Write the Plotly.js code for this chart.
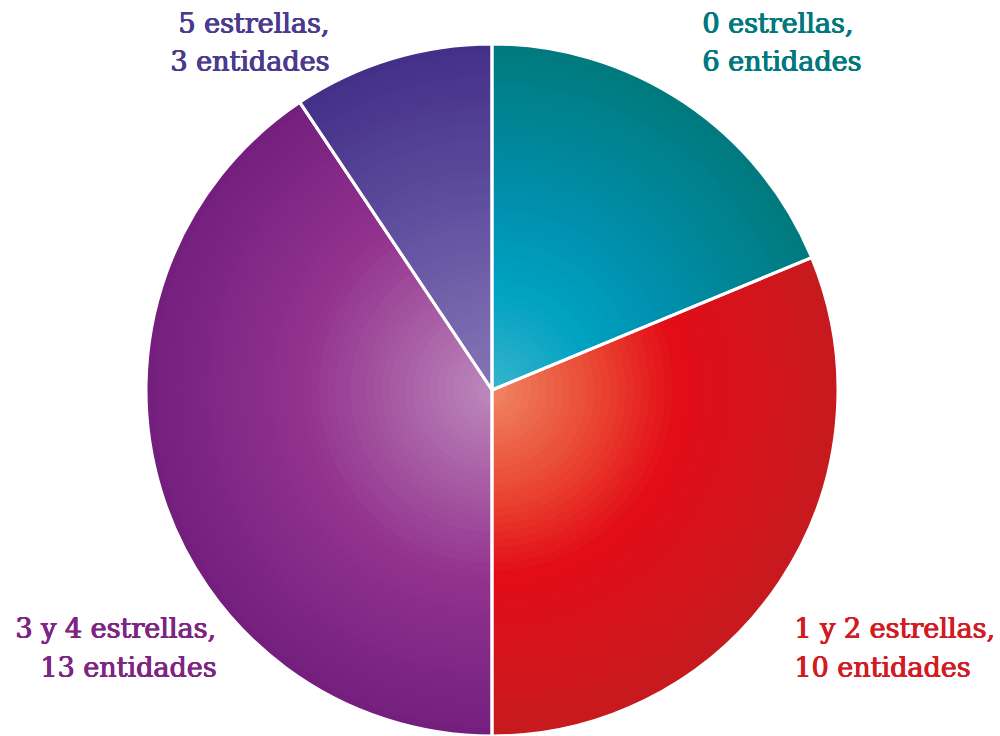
<!DOCTYPE html>
<html>
<head>
<meta charset="utf-8">
<script src="https://cdn.plot.ly/plotly-3.0.1.min.js"></script>
<style>html,body{margin:0;padding:0;background:#fff;}#chart{width:1000px;height:736px;}</style>
</head>
<body>
<div id="chart"></div>
<script>
const categories = ["0 estrellas,", "1 y 2 estrellas,", "3 y 4 estrellas,", "5 estrellas,"];
const entidades = [6, 10, 13, 3];
const labelColors = ["#00787d", "#d21c24", "#7e2483", "#4b3a8e"];

// radial shading of each slice: colour at relative radius stops
const gradStops = [0, 0.3, 0.55, 1];
const gradColors = [
  ["#3ab4cc", "#00a2c2", "#0090ae", "#007a7e"],
  ["#f08866", "#ea4a34", "#e20c17", "#c71a1e"],
  ["#bd8abd", "#a65aa2", "#93338f", "#741f7e"],
  ["#8676b6", "#7262aa", "#5f4f9f", "#443088"]
];

const FONT = "DejaVu Serif";
const FS = 27;

// label placement (pixel positions of each label block)
const labelPos = [
  {x: 700, y1: 23, y2: 62, anchor: "left"},
  {x: 792, y1: 628, y2: 667, anchor: "left"},
  {x: 218, y1: 628, y2: 667, anchor: "right"},
  {x: 331, y1: 23, y2: 62, anchor: "right"}
];

const W = 1000, H = 736;
const CX = 492, CY = 390, R = 346, LAYERS = 44;

function hex2rgb(h) { return [1, 3, 5].map(i => parseInt(h.substr(i, 2), 16)); }
function colorAt(cols, t) {
  let k = 0;
  while (k < gradStops.length - 2 && t > gradStops[k + 1]) k++;
  const f = (t - gradStops[k]) / (gradStops[k + 1] - gradStops[k]);
  const a = hex2rgb(cols[k]), b = hex2rgb(cols[k + 1]);
  return "rgb(" + a.map((v, i) => Math.round(v + (b[i] - v) * f)).join(",") + ")";
}
function domainFor(r) {
  return {x: [(CX - r) / W, (CX + r) / W], y: [(H - CY - r) / H, (H - CY + r) / H]};
}

const traces = [];
for (let j = 0; j < LAYERS; j++) {
  const t = 1 - j / LAYERS;
  traces.push({
    type: "pie", labels: categories, values: entidades, sort: false,
    direction: "clockwise", rotation: 0, textinfo: "none", hoverinfo: "skip",
    marker: {colors: gradColors.map(c => colorAt(c, t)), line: {width: 0}},
    domain: domainFor(R * t), showlegend: false
  });
}
// separators
traces.push({
  type: "pie", labels: categories, values: entidades, sort: false,
  direction: "clockwise", rotation: 0, textinfo: "none", hoverinfo: "label+value",
  marker: {colors: categories.map(() => "rgba(0,0,0,0)"), line: {color: "#ffffff", width: 3}},
  domain: domainFor(R), showlegend: false
});

const annotations = [];
categories.forEach((c, i) => {
  const p = labelPos[i];
  [c, entidades[i] + " entidades"].forEach((txt, k) => {
    annotations.push({
      text: txt, xref: "paper", yref: "paper",
      x: p.x / W, y: 1 - (k === 0 ? p.y1 : p.y2) / H,
      xanchor: p.anchor, yanchor: "middle", showarrow: false,
      font: {family: FONT, size: FS, color: labelColors[i],
             shadow: "0.9px 0 0 " + labelColors[i] + ", 0.45px 0 0 " + labelColors[i] + ", 0 0.3px 0 " + labelColors[i]}
    });
  });
});

Plotly.newPlot("chart", traces, {
  width: W, height: H,
  margin: {l: 0, r: 0, t: 0, b: 0},
  paper_bgcolor: "#ffffff",
  showlegend: false,
  annotations: annotations
}, {displayModeBar: false, staticPlot: true});
</script>
</body>
</html>
